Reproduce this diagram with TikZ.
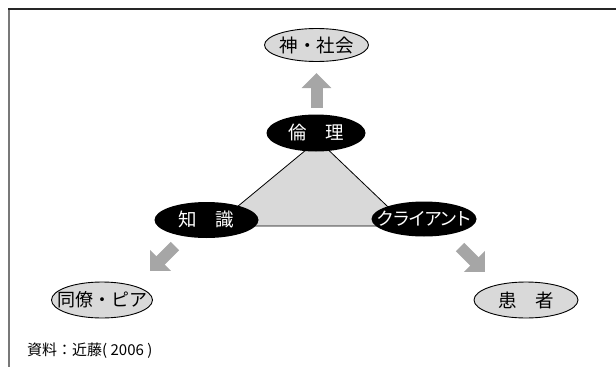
\documentclass[tikz,border=0pt]{standalone}
\usepackage{fontspec}
\setmainfont{Noto Sans CJK JP}
\newfontfamily\paltfont[RawFeature=+palt]{Noto Sans CJK JP}
\usetikzlibrary{arrows.meta,shapes.geometric}
\definecolor{lgray}{RGB}{217,217,217}
\definecolor{agray}{RGB}{166,166,166}
\definecolor{framegray}{RGB}{120,120,120}
\newcommand{\zw}[1]{\makebox[0pt]{#1}}
\tikzset{
  outer/.style={ellipse, draw=black, line width=0.9pt, fill=lgray, inner sep=0pt,
    font=\fontsize{18.5}{20}\selectfont, text=black},
  inner/.style={ellipse, fill=black, inner sep=0pt,
    font=\fontsize{18.5}{20}\selectfont, text=white},
  blockarrow/.style={draw=agray, line width=12pt,
    -{Triangle[width=29pt,length=15pt]}},
  tri/.style={draw=black, line width=0.8pt, fill=lgray},
  caption/.style={anchor=west, inner sep=0pt, font=\fontsize{15}{17}\selectfont}
}
\begin{document}
\begin{tikzpicture}[x=1pt,y=-1pt]
\useasboundingbox (0,0) rectangle (616,367);
% frame
\draw[framegray, line width=1.6pt] (8.8,9) -- (8.8,367);
\draw[black!85, line width=1.5pt] (8,9) -- (616,9);
% triangle
\coordinate (tA) at (318,140);
\coordinate (tB) at (214,226);
\coordinate (tC) at (408,226);
\draw[tri] (tA) -- (tB) -- (tC) -- cycle;
% outer nodes
\node[outer, minimum width=104pt, minimum height=33pt] (kami) at (316.5,45) {\zw{神・社会}};
\node[outer, minimum width=101pt, minimum height=36pt] (dozo) at (102,300) {\zw{\fontsize{18}{20}\selectfont 同僚・ピア}};
\node[outer, minimum width=104pt, minimum height=36pt] (kanja) at (526,300) {\zw{患　者}};
% inner nodes
\node[inner, minimum width=99pt, minimum height=37pt] (rinri) at (316,133) {\zw{倫　理}};
\node[inner, minimum width=104pt, minimum height=36pt] (chishiki) at (206.5,220) {\zw{知　識}};
\node[inner, minimum width=105pt, minimum height=35pt] (client) at (424,219) {\zw{\fontsize{18}{20}\selectfont\paltfont クライアント}};
% arrows
\coordinate (a1s) at (316.5,108);
\coordinate (a1e) at (316.5,73);
\draw[blockarrow] (a1s) -- (a1e);
\coordinate (a2s) at (175,246);
\coordinate (a2e) at (150,271);
\draw[blockarrow] (a2s) -- (a2e);
\coordinate (a3s) at (460,247);
\coordinate (a3e) at (485,272);
\draw[blockarrow] (a3s) -- (a3e);
% caption
\node[caption] (src) at (27,351) {資料：近藤( 2006 )};
\end{tikzpicture}
\end{document}
